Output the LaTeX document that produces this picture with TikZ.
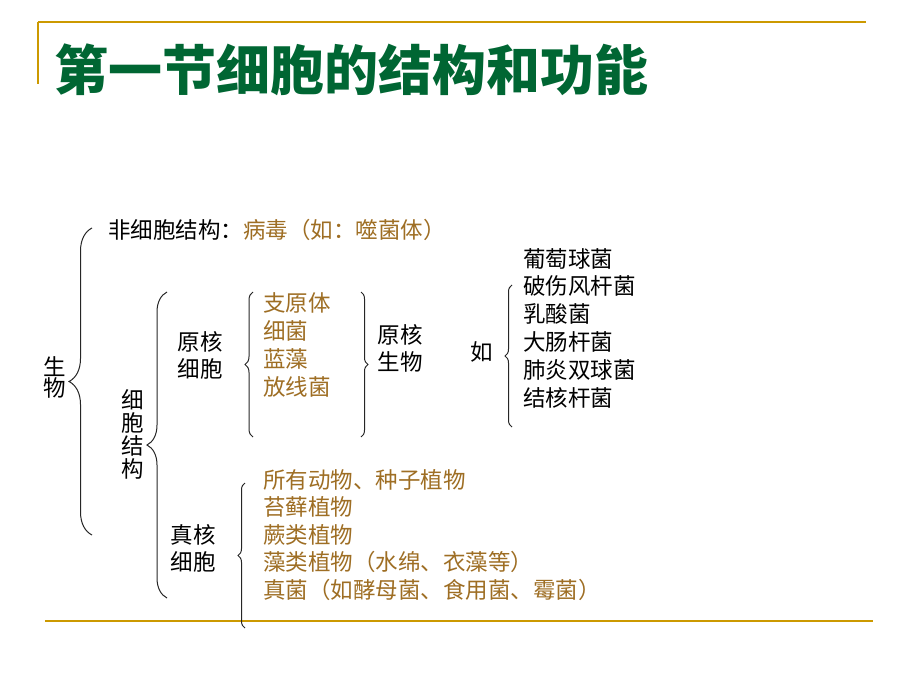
\documentclass[tikz,border=0pt]{standalone}
\usepackage{fontspec}
\setmainfont{Noto Sans CJK SC}
\usetikzlibrary{decorations.pathreplacing}
\definecolor{rulegold}{RGB}{204,153,0}
\definecolor{titlegreen}{RGB}{0,102,51}
\definecolor{goldtext}{RGB}{158,110,36}

\begin{document}
\begin{tikzpicture}[x=1pt,y=-1pt,
  txt/.style={inner sep=0pt,font=\fontsize{22.5}{27.5}\selectfont},
  gold/.style={txt,text=goldtext},
  lbrace/.style={decorate,decoration={brace,amplitude=#1},line width=1pt,black!85},
  rule/.style={draw=rulegold,line width=2pt}]
\useasboundingbox (0,0) rectangle (920,690);
\draw[rule] (38,22) -- (866,22);
\draw[rule,line width=1.5pt] (38,22) -- (38,84);
\draw[rule] (45,621) -- (873,621);
\node[anchor=west,inner sep=0pt,text=titlegreen,font=\fontsize{54}{54}\selectfont\bfseries] (title) at (54,70) {第一节细胞的结构和功能};
\node[txt,align=center,font=\fontsize{22.5}{21}\selectfont] (life) at (55,377) {生\\物};
\node[txt,anchor=west] (noncell) at (108,230) {非细胞结构：\textcolor{goldtext}{病毒（如：噬菌体）}};
\coordinate (b1top) at (92,228); \coordinate (b1bot) at (92,535);
\draw[lbrace=23] (b1bot) -- (b1top);
\node[txt,align=center,font=\fontsize{22.5}{23}\selectfont] (cellstr) at (133,434) {细\\胞\\结\\构};
\coordinate (b2top) at (167,292); \coordinate (b2bot) at (167,598);
\draw[lbrace=20] (b2bot) -- (b2top);
% prokaryotes
\node[txt,align=center,font=\fontsize{22.5}{27}\selectfont] (prokcell) at (200,355) {原核\\细胞};
\coordinate (b3top) at (253,292); \coordinate (b3bot) at (253,437);
\draw[lbrace=8] (b3bot) -- (b3top);
\node[gold,anchor=west,align=left,font=\fontsize{22.5}{28}\selectfont] (proklist) at (263,345) {支原体\\细菌\\蓝藻\\放线菌};
\coordinate (b4top) at (361,292); \coordinate (b4bot) at (361,437);
\draw[lbrace=7] (b4top) -- (b4bot);
\node[txt,align=center,font=\fontsize{22.5}{27}\selectfont] (proklife) at (400,348) {原核\\生物};
\node[txt] (eg) at (482,352) {如};
\coordinate (b5top) at (512,285); \coordinate (b5bot) at (512,427);
\draw[lbrace=7] (b5bot) -- (b5top);
\node[txt,anchor=west,align=left,font=\fontsize{22.5}{27.8}\selectfont] (bactlist) at (523,328) {葡萄球菌\\破伤风杆菌\\乳酸菌\\大肠杆菌\\肺炎双球菌\\结核杆菌};
% eukaryotes
\node[txt,align=center,font=\fontsize{22.5}{27}\selectfont] (eukcell) at (193,548) {真核\\细胞};
\coordinate (b6top) at (245,483); \coordinate (b6bot) at (245,628);
\draw[lbrace=7] (b6bot) -- (b6top);
\node[gold,anchor=west,align=left,font=\fontsize{22.5}{27.5}\selectfont] (euklist) at (263,535) {所有动物、种子植物\\苔藓植物\\蕨类植物\\藻类植物（水绵、衣藻等）\\真菌（如酵母菌、食用菌、霉菌）};
\end{tikzpicture}
\end{document}
